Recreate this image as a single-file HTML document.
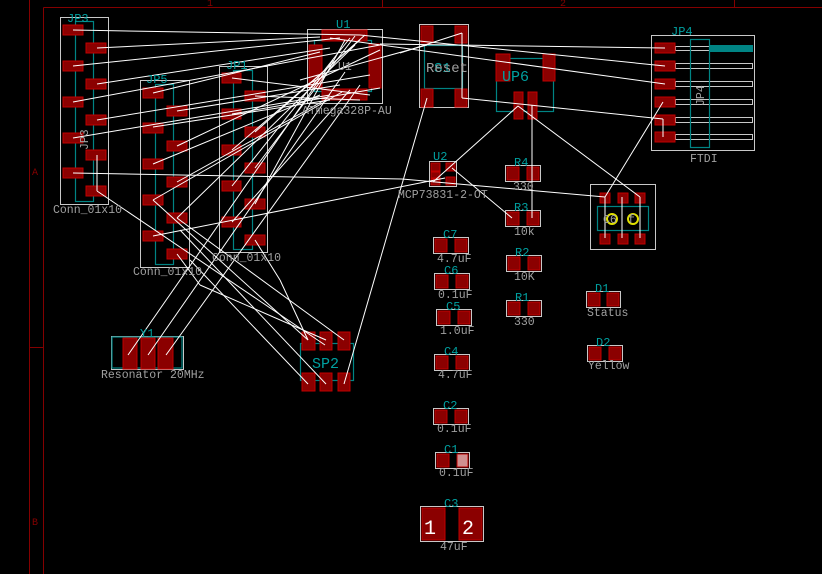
<!DOCTYPE html>
<html><head><meta charset="utf-8"><style>
html,body{margin:0;padding:0;background:#000;}
svg{display:block}
text{font-family:"Liberation Mono",monospace;}
</style></head><body>
<svg width="822" height="574" viewBox="0 0 822 574" xmlns="http://www.w3.org/2000/svg">
<rect width="822" height="574" fill="#000"/>
<g stroke="#840000" stroke-width="1" fill="none">
<line x1="29.5" y1="0" x2="29.5" y2="574"/>
<line x1="43.5" y1="7.5" x2="43.5" y2="574"/>
<line x1="43.5" y1="7.5" x2="822" y2="7.5"/>
<line x1="382.5" y1="0" x2="382.5" y2="7"/>
<line x1="734.5" y1="0" x2="734.5" y2="7"/>
<line x1="29" y1="347.5" x2="43" y2="347.5"/>
</g>
<g fill="#840000" font-size="10"><text x="207" y="6">1</text><text x="560" y="6">2</text><text x="32" y="175">A</text><text x="32" y="525">B</text></g>

<g fill="none" stroke="#c8c8c8" stroke-width="1">
<rect x="60.5" y="17.5" width="48" height="187"/>
<rect x="140.5" y="80.5" width="49" height="187"/>
<rect x="219.5" y="66.5" width="48" height="186"/>
<rect x="307.5" y="29.5" width="75" height="74"/>
<rect x="419.5" y="24.5" width="49" height="83"/>
<rect x="651.5" y="35.5" width="103" height="115"/>
<rect x="429.5" y="161.5" width="27" height="25"/>
<rect x="590.5" y="184.5" width="65" height="65"/>
<rect x="505.5" y="165.5" width="35" height="16"/>
<rect x="505.5" y="210.5" width="35" height="16"/>
<rect x="506.5" y="255.5" width="35" height="16"/>
<rect x="506.5" y="300.5" width="35" height="16"/>
<rect x="433.5" y="237.5" width="35" height="16"/>
<rect x="434.5" y="273.5" width="35" height="16"/>
<rect x="436.5" y="309.5" width="35" height="16"/>
<rect x="434.5" y="354.5" width="35" height="16"/>
<rect x="433.5" y="408.5" width="35" height="16"/>
<rect x="435.5" y="452.5" width="34" height="16"/>
<rect x="420.5" y="506.5" width="63" height="35"/>
<rect x="586.5" y="291.5" width="34" height="16"/>
<rect x="587.5" y="345.5" width="35" height="16"/>
<rect x="111.5" y="336.5" width="72" height="33"/>
<rect x="675.5" y="63.5" width="77" height="5"/>
<rect x="675.5" y="81.5" width="77" height="5"/>
<rect x="675.5" y="99.5" width="77" height="5"/>
<rect x="675.5" y="117.5" width="77" height="5"/>
<rect x="675.5" y="134.5" width="77" height="5"/>
<rect x="675.5" y="46.5" width="34" height="4"/>
</g>

<g fill="none" stroke="#008484" stroke-width="1.2">
<rect x="75.5" y="21.5" width="18" height="180"/>
<rect x="155.5" y="84.5" width="18" height="180"/>
<rect x="233.5" y="70.5" width="19" height="179"/>
<rect x="314.5" y="40.5" width="57" height="51"/>
<rect x="424.5" y="45.5" width="38" height="43"/>
<rect x="496.5" y="58.5" width="57" height="53"/>
<rect x="690.5" y="39.5" width="19" height="108"/>
<rect x="597.5" y="206.5" width="51" height="24"/>
<rect x="300.5" y="343.5" width="53" height="37"/>
<rect x="112" y="337" width="70" height="31"/>
</g>
<rect x="709" y="45" width="44" height="7" fill="#008484"/>

<g fill="#8b0000" stroke="#c00000" stroke-width="1">
<rect x="63" y="25" width="20" height="10"/><rect x="63" y="61" width="20" height="10"/><rect x="63" y="97" width="20" height="10"/><rect x="63" y="133" width="20" height="10"/><rect x="63" y="168" width="20" height="10"/>
<rect x="86" y="43" width="20" height="10"/><rect x="86" y="79" width="20" height="10"/><rect x="86" y="115" width="20" height="10"/><rect x="86" y="150" width="20" height="10"/><rect x="86" y="186" width="20" height="10"/>
<rect x="143" y="88" width="20" height="10"/><rect x="143" y="123" width="20" height="10"/><rect x="143" y="159" width="20" height="10"/><rect x="143" y="195" width="20" height="10"/><rect x="143" y="231" width="20" height="10"/>
<rect x="167" y="106" width="20" height="10"/><rect x="167" y="141" width="20" height="10"/><rect x="167" y="177" width="20" height="10"/><rect x="167" y="213" width="20" height="10"/><rect x="167" y="249" width="20" height="10"/>
<rect x="222" y="73" width="19" height="10"/><rect x="222" y="109" width="19" height="10"/><rect x="222" y="145" width="19" height="10"/><rect x="222" y="181" width="19" height="10"/><rect x="222" y="217" width="19" height="10"/>
<rect x="245" y="91" width="20" height="10"/><rect x="245" y="127" width="20" height="10"/><rect x="245" y="163" width="20" height="10"/><rect x="245" y="199" width="20" height="10"/><rect x="245" y="235" width="20" height="10"/>
<rect x="322" y="30" width="45" height="11"/><rect x="309" y="45" width="13" height="43"/><rect x="369" y="44" width="12" height="44"/><rect x="322" y="89" width="45" height="11"/>
<rect x="421" y="26" width="12" height="17"/><rect x="455" y="26" width="12" height="17"/><rect x="421" y="89" width="12" height="18"/><rect x="455" y="89" width="12" height="18"/>
<rect x="496" y="54" width="14" height="27"/><rect x="543" y="54" width="12" height="27"/><rect x="514" y="92" width="9" height="27"/><rect x="528" y="92" width="9" height="27"/>
<rect x="655" y="43" width="20" height="10"/><rect x="655" y="61" width="20" height="10"/><rect x="655" y="79" width="20" height="10"/><rect x="655" y="97" width="20" height="10"/><rect x="655" y="115" width="20" height="10"/><rect x="655" y="132" width="20" height="10"/>
<rect x="431" y="163" width="9" height="8"/><rect x="446" y="163" width="9" height="8"/><rect x="431" y="172" width="9" height="6"/><rect x="431" y="179" width="9" height="6"/><rect x="446" y="177" width="9" height="8"/>
<rect x="600" y="193" width="10" height="10"/><rect x="618" y="193" width="10" height="10"/><rect x="635" y="193" width="10" height="10"/>
<rect x="600" y="234" width="10" height="10"/><rect x="618" y="234" width="10" height="10"/><rect x="635" y="234" width="10" height="10"/>
<rect x="507" y="167" width="12" height="13"/><rect x="527" y="167" width="12" height="13"/>
<rect x="507" y="212" width="12" height="13"/><rect x="527" y="212" width="12" height="13"/>
<rect x="508" y="257" width="12" height="13"/><rect x="528" y="257" width="12" height="13"/>
<rect x="508" y="302" width="12" height="13"/><rect x="528" y="302" width="12" height="13"/>
<rect x="435" y="239" width="12" height="13"/><rect x="455" y="239" width="12" height="13"/>
<rect x="436" y="275" width="12" height="13"/><rect x="456" y="275" width="12" height="13"/>
<rect x="438" y="311" width="12" height="13"/><rect x="458" y="311" width="12" height="13"/>
<rect x="436" y="356" width="12" height="13"/><rect x="456" y="356" width="12" height="13"/>
<rect x="435" y="410" width="12" height="13"/><rect x="455" y="410" width="12" height="13"/>
<rect x="437" y="454" width="12" height="13"/>
<rect x="422" y="508" width="23" height="32"/><rect x="459" y="508" width="23" height="32"/>
<rect x="588" y="293" width="12" height="13"/><rect x="607" y="293" width="12" height="13"/>
<rect x="589" y="347" width="12" height="13"/><rect x="609" y="347" width="12" height="13"/>
<rect x="123" y="338" width="14" height="31"/><rect x="141" y="338" width="14" height="31"/><rect x="158" y="338" width="15" height="31"/>
<rect x="302" y="332" width="13" height="18"/><rect x="320" y="332" width="12" height="18"/><rect x="338" y="332" width="12" height="18"/>
<rect x="302" y="373" width="13" height="18"/><rect x="320" y="373" width="12" height="18"/><rect x="338" y="373" width="12" height="18"/>
</g>
<rect x="457" y="454" width="11" height="13" fill="#d09090" stroke="#c00000"/>
<g fill="none" stroke="#e0e000" stroke-width="2"><circle cx="612" cy="219" r="5"/><circle cx="633" cy="219" r="5"/></g>

<g stroke="#fff" stroke-width="1" fill="none">
<line x1="73" y1="30" x2="360" y2="35"/><line x1="360" y1="35" x2="665" y2="66"/>
<line x1="330" y1="38" x2="665" y2="84"/>
<line x1="97" y1="48" x2="320" y2="37"/>
<line x1="73" y1="66" x2="340" y2="38"/>
<line x1="97" y1="84" x2="330" y2="48"/>
<line x1="73" y1="102" x2="380" y2="45"/>
<line x1="97" y1="120" x2="370" y2="75"/>
<line x1="73" y1="138" x2="330" y2="95"/>
<line x1="97" y1="155" x2="97" y2="191"/>
<line x1="97" y1="191" x2="325" y2="345"/>
<line x1="73" y1="173" x2="402" y2="179"/><line x1="402" y1="179" x2="605" y2="197"/>
<line x1="153" y1="93" x2="320" y2="52"/>
<line x1="177" y1="111" x2="340" y2="85"/>
<line x1="153" y1="127" x2="330" y2="100"/>
<line x1="177" y1="146" x2="380" y2="50"/>
<line x1="153" y1="164" x2="320" y2="95"/>
<line x1="177" y1="182" x2="325" y2="100"/>
<line x1="153" y1="200" x2="342" y2="92"/>
<line x1="177" y1="218" x2="355" y2="45"/>
<line x1="153" y1="236" x2="445" y2="178"/>
<line x1="177" y1="254" x2="200" y2="285"/>
<line x1="153" y1="200" x2="308" y2="340"/>
<line x1="177" y1="218" x2="344" y2="340"/>
<line x1="232" y1="78" x2="370" y2="95"/>
<line x1="255" y1="96" x2="360" y2="100"/>
<line x1="232" y1="114" x2="380" y2="88"/>
<line x1="255" y1="132" x2="365" y2="35"/>
<line x1="232" y1="150" x2="360" y2="40"/>
<line x1="255" y1="168" x2="355" y2="36"/>
<line x1="232" y1="186" x2="350" y2="38"/>
<line x1="255" y1="204" x2="345" y2="40"/>
<line x1="232" y1="222" x2="350" y2="90"/>
<line x1="255" y1="240" x2="280" y2="280"/>
<line x1="200" y1="285" x2="326" y2="340"/>
<line x1="280" y1="280" x2="308" y2="340"/>
<line x1="190" y1="260" x2="308" y2="384"/>
<line x1="180" y1="230" x2="326" y2="384"/>
<line x1="333" y1="60" x2="128" y2="355"/>
<line x1="345" y1="72" x2="148" y2="355"/>
<line x1="360" y1="85" x2="166" y2="355"/>
<line x1="427" y1="98" x2="344" y2="384"/>
<line x1="427" y1="45" x2="300" y2="80"/>
<line x1="462" y1="33" x2="462" y2="98"/>
<line x1="462" y1="33" x2="400" y2="53"/>
<line x1="462" y1="98" x2="663" y2="119"/><line x1="663" y1="119" x2="663" y2="137"/>
<line x1="518" y1="106" x2="433" y2="182"/>
<line x1="518" y1="106" x2="640" y2="197"/>
<line x1="532" y1="105" x2="532" y2="218"/>
<line x1="452" y1="168" x2="512" y2="218"/>
<line x1="605" y1="197" x2="663" y2="102"/>
<line x1="605" y1="197" x2="605" y2="238"/>
<line x1="622" y1="197" x2="622" y2="238"/>
<line x1="640" y1="197" x2="640" y2="238"/>
<line x1="380" y1="44" x2="665" y2="48"/>
</g>

<g fill="#00a0a0" font-size="12">
<text x="67" y="22">JP3</text><text x="146" y="83">JP5</text><text x="226" y="69">JP1</text>
<text x="336" y="28">U1</text><text x="671" y="35">JP4</text><text x="433" y="160">U2</text>
<text x="514" y="166">R4</text><text x="514" y="211">R3</text><text x="515" y="256">R2</text><text x="515" y="301">R1</text>
<text x="443" y="238">C7</text><text x="444" y="274">C6</text><text x="446" y="310">C5</text><text x="444" y="355">C4</text>
<text x="443" y="409">C2</text><text x="444" y="453">C1</text><text x="444" y="507">C3</text>
<text x="595" y="292">D1</text><text x="596" y="346">D2</text><text x="140" y="337">Y1</text>
<text x="502" y="81" font-size="15">UP6</text><text x="312" y="368" font-size="15">SP2</text>
<text x="434" y="72" font-size="14">S1</text>
</g>
<g fill="#a0a0a0" font-size="11.5">
<text x="53" y="213">Conn_01x10</text><text x="133" y="275">Conn_01x10</text><text x="212" y="261">Conn_01x10</text>
<text x="302" y="114">ATmega328P-AU</text><text x="338" y="70">U1</text>
<text x="398" y="198">MCP73831-2-OT</text><text x="690" y="162">FTDI</text>
<text x="426" y="72" font-size="14">Reset</text>
<text x="513" y="190">330</text><text x="514" y="235">10k</text><text x="514" y="280">10K</text><text x="514" y="325">330</text>
<text x="437" y="262">4.7uF</text><text x="438" y="298">0.1uF</text><text x="440" y="334">1.0uF</text><text x="438" y="378">4.7uF</text>
<text x="437" y="432">0.1uF</text><text x="439" y="476">0.1uF</text><text x="440" y="550">47uF</text>
<text x="587" y="316">Status</text><text x="588" y="369">Yellow</text>
<text x="101" y="378">Resonator 20MHz</text>
<text x="0" y="0" transform="translate(704,106) rotate(-90)">JP4</text>
<text x="0" y="0" transform="translate(88,150) rotate(-90)">JP3</text>
<text x="603" y="223">C6</text><text x="628" y="223">f</text>
</g>
<g fill="#fff" font-size="20"><text x="424" y="534">1</text><text x="462" y="534">2</text></g>
</svg>
</body></html>
